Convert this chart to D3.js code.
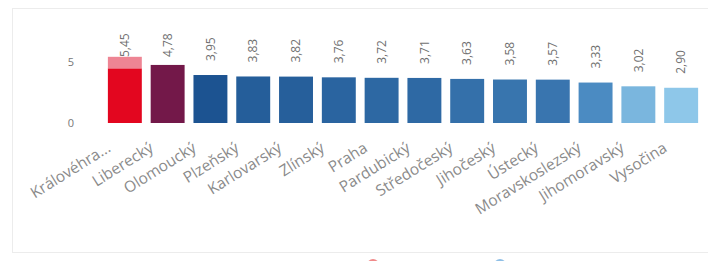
<!DOCTYPE html>
<html>
<head>
<meta charset="utf-8">
<script src="https://cdn.jsdelivr.net/npm/d3@7"></script>
<style>
	body { margin: 0; background: #fff; }
	svg { display: block; font-family: "Open Sans", sans-serif; }
</style>
</head>
<body>
<svg></svg>
<script>
const size = { w: 708, h: 261 };

// data
const regions = ["Královéhradecký", "Liberecký", "Olomoucký", "Plzeňský", "Karlovarský", "Zlínský", "Praha",
	"Pardubický", "Středočeský", "Jihočeský", "Ústecký", "Moravskoslezský", "Jihomoravský", "Vysočina"];
const tickLabels = ["Královéhra...", "Liberecký", "Olomoucký", "Plzeňský", "Karlovarský", "Zlínský", "Praha",
	"Pardubický", "Středočeský", "Jihočeský", "Ústecký", "Moravskoslezský", "Jihomoravský", "Vysočina"];
const values = [5.45, 4.78, 3.95, 3.83, 3.82, 3.76, 3.72, 3.71, 3.63, 3.58, 3.57, 3.33, 3.02, 2.90];
// lighter top segment of the first bar
const topSegment = [0.95, 0, 0, 0, 0, 0, 0, 0, 0, 0, 0, 0, 0, 0];
const yTicks = [0, 5];

const svg = d3.select("svg").attr("width", size.w).attr("height", size.h);

// card frame
svg.append("rect")
	.attr("x", 12.5).attr("y", 8.5)
	.attr("width", 720).attr("height", 244)
	.attr("fill", "#fff")
	.attr("stroke", "#ececec");

const scaleX = d3.scaleBand()
	.domain(regions)
	.range([103.6, 702.4])
	.paddingInner(0.207)
	.paddingOuter(0.1);

const scaleY = d3.scaleLinear().domain([0, 7.5]).range([123, 31.9]);

const blues = d3.scaleLinear()
	.domain([2.9, 3.3, 3.95])
	.range(["#8ec7e9", "#4d8ec4", "#1c5391"]);

function barColor(d, i) {
	if (i === 0) return "#e3061f";
	if (i === 1) return "#731849";
	return blues(d);
}

const bars = svg.append("g");

bars.selectAll("rect.main")
	.data(values)
	.join("rect")
	.classed("main", true)
	.attr("x", (d, i) => scaleX(regions[i]))
	.attr("y", (d, i) => scaleY(d - topSegment[i]))
	.attr("width", scaleX.bandwidth())
	.attr("height", (d, i) => scaleY(0) - scaleY(d - topSegment[i]))
	.attr("fill", barColor);

bars.selectAll("rect.top")
	.data(values.filter((d, i) => topSegment[i] > 0))
	.join("rect")
	.classed("top", true)
	.attr("x", (d) => scaleX(regions[values.indexOf(d)]))
	.attr("y", (d) => scaleY(d))
	.attr("width", scaleX.bandwidth())
	.attr("height", (d) => scaleY(d - topSegment[values.indexOf(d)]) - scaleY(d))
	.attr("fill", "#ee8594");

// value labels, rotated
svg.append("g")
	.selectAll("text")
	.data(values)
	.join("text")
	.attr("transform", (d, i) => {
		let cx = scaleX(regions[i]) + scaleX.bandwidth() / 2;
		let ly = Math.max(scaleY(d) - 14, 57);
		return `translate(${cx},${ly}) rotate(-90)`;
	})
	.attr("dy", "0.35em")
	.attr("font-size", 12)
	.attr("fill", "#707070")
	.text((d) => d.toFixed(2).replace(".", ","));

// y axis labels only
svg.append("g")
	.selectAll("text")
	.data(yTicks)
	.join("text")
	.attr("x", 74)
	.attr("y", (d) => scaleY(d))
	.attr("dy", "0.35em")
	.attr("text-anchor", "end")
	.attr("font-size", 11)
	.attr("fill", "#777")
	.text((d) => d);

// category labels
svg.append("g")
	.selectAll("text")
	.data(tickLabels)
	.join("text")
	.attr("transform", (d, i) => {
		let cx = scaleX(regions[i]) + scaleX.bandwidth() / 2;
		return `translate(${cx - 16},${146}) rotate(-32)`;
	})
	.attr("dy", "0.35em")
	.attr("text-anchor", "end")
	.attr("font-size", 15.5)
	.attr("fill", "#8a8a8a")
	.text((d) => d);

// legend markers peeking in at the bottom edge
svg.append("circle").attr("cx", 373).attr("cy", 265).attr("r", 6).attr("fill", "#f08a8a");
svg.append("circle").attr("cx", 500).attr("cy", 265).attr("r", 6).attr("fill", "#8fbfe6");
</script>
</body>
</html>
